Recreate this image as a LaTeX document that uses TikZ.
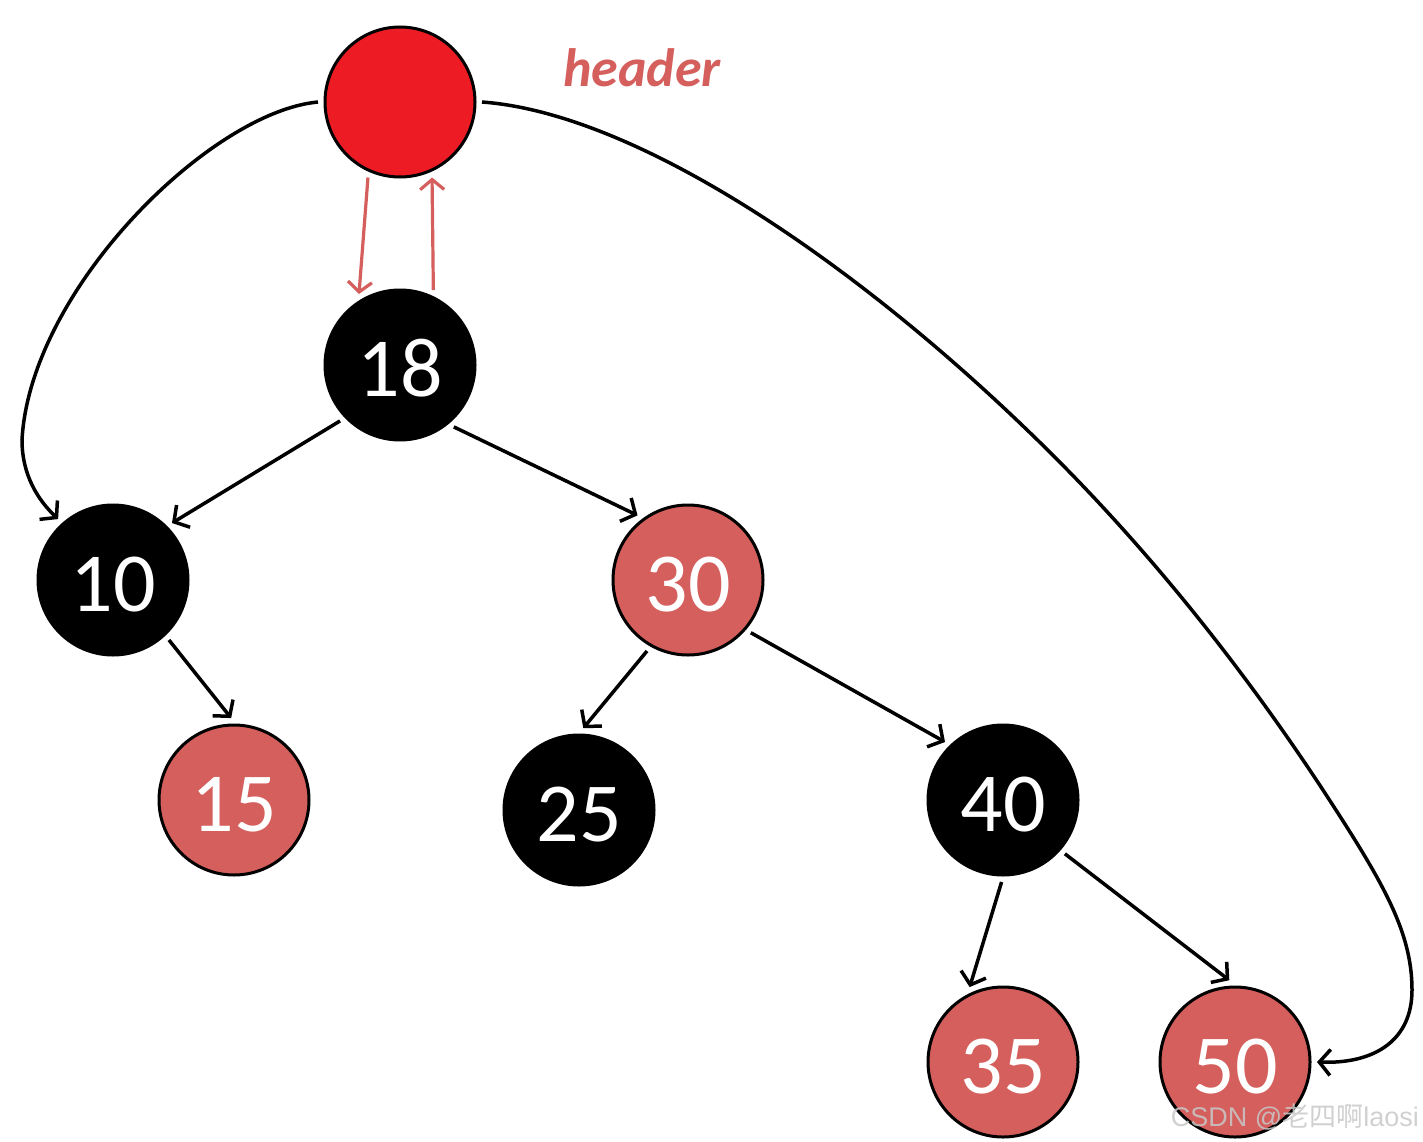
\documentclass[tikz,border=0pt]{standalone}
\usepackage{fontspec}
\setmainfont{Carlito}
\newfontfamily\wmfont{Liberation Sans}
\newfontfamily\cjkfont{Noto Sans CJK SC}
\usetikzlibrary{arrows.meta}
\definecolor{hred}{RGB}{237,28,36}
\definecolor{nred}{RGB}{212,95,92}
\definecolor{wmgray}{RGB}{200,200,200}
\begin{document}
\begin{tikzpicture}[x=1pt,y=-1pt,
  tn/.style={circle,minimum size=150pt,inner sep=0pt,outer sep=7pt,line width=3pt,draw=black,
    text=white,font=\fontsize{84}{84}\selectfont,text height=63pt,text depth=0pt},
  bn/.style={tn,fill=black},
  rn/.style={tn,fill=nred},
  edge/.style={line width=3.5pt,draw=black,-{Straight Barb[length=11pt,width=26pt]}},
  redge/.style={line width=3.2pt,draw=nred,-{Straight Barb[length=10pt,width=24pt]}}]
\useasboundingbox (0,0) rectangle (1423,1142);
% nodes
\node[tn,fill=hred] (hdr) at (400,102) {};
\node[anchor=base,text=nred,font=\bfseries\itshape\fontsize{54}{54}\selectfont] (hlabel) at (642,87) {header};
\node[bn] (n18) at (400,365) {18};
\node[bn] (n10) at (113,580) {10};
\node[rn] (n30) at (688,580) {30};
\node[rn] (n15) at (234,800) {15};
\node[bn] (n25) at (579,810) {25};
\node[bn] (n40) at (1003,800) {40};
\node[rn] (n35) at (1003,1062) {35};
\node[rn] (n50) at (1235,1062) {50};
% tree edges
\draw[edge] (n18.223) -- (n10.44);
\draw[edge] (n18.311) -- (n30.128);
\draw[edge] (n10.313) -- (n15.92);
\draw[edge] (n30.240) -- (n25.87);
\draw[edge] (n30.320) -- (n40.135);
\draw[edge] (n40.269) -- (n35.114);
\draw[edge] (n40.319) -- (n50.94);
% header <-> root
\draw[redge] (hdr.247) -- (n18.120);
\draw[redge] (n18.66) -- (hdr.293);
% header -> leftmost / rightmost
\draw[edge] (hdr.west) .. controls (210,112) and (30,290) .. (22,440)
  .. controls (22,475) and (38,500) .. (n10.132);
\draw[edge] (hdr.east) .. controls (632,113) and (844,254) .. (1024,427)
  .. controls (1136,534) and (1236,658) .. (1321,787)
  .. controls (1381,879) and (1412,930) .. (1412,990)
  .. controls (1412,1040) and (1375,1064) .. (n50.east);
% watermark
\node[anchor=base east,text=wmgray,text opacity=0.85,inner sep=0pt,font=\wmfont\fontsize{27}{27}\selectfont] (wm) at (1419,1126) {CSDN @{\cjkfont 老四啊}laosi};
\end{tikzpicture}
\end{document}
